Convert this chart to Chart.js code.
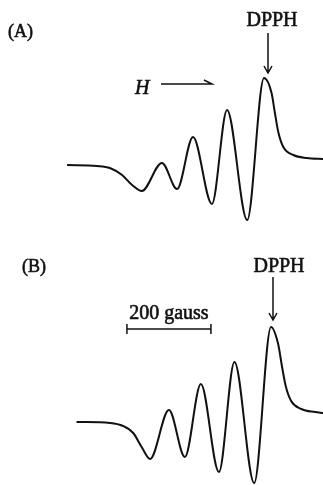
<!DOCTYPE html>
<html>
<head>
<meta charset="utf-8">
<script src="https://cdn.jsdelivr.net/npm/chart.js@4/dist/chart.umd.min.js"></script>
<style>
  html, body { margin: 0; padding: 0; background: #fff; }
  canvas { display: block; }
</style>
</head>
<body>
<canvas id="chartA" width="323" height="240"></canvas>
<canvas id="chartB" width="323" height="245"></canvas>
<script>
// Field offset from the DPPH line (gauss) and derivative signal (arb. units)
const fieldA = [-469, -398, -367, -338, -314, -291, -243, -207, -169, -124, -88, -40, 0, 18, 26, 34, 46, 70, 102, 141];
const signalA = [0, -1, -3, -10, -20, -26, 2, -24, 28, -39, 55, -55, 87, 72, 52, 33, 18, 10, 7, 6];

const fieldB = [-463, -383, -352, -328, -308, -288, -243, -205, -167, -124, -87, -40, 0, 17, 26, 35, 48, 72, 105, 124];
const signalB = [0, -1, -4, -11, -25, -37, 12, -35, 38, -50, 60, -61, 95, 78, 56, 36, 21, 13, 10, 9];

// 200 gauss scale bar (start, end in gauss)
const scaleBar = [-343, -143];
const scaleLabel = '200 gauss';

const FONT = '"Liberation Serif", "DejaVu Serif", serif';
const INK = '#111';

function downArrow(ctx, x, y0, y1) {
    ctx.beginPath();
    ctx.moveTo(x, y0);
    ctx.lineTo(x, y1);
    ctx.moveTo(x - 4, y1 - 7);
    ctx.lineTo(x, y1);
    ctx.lineTo(x + 4, y1 - 7);
    ctx.stroke();
}

// filled text with a thin outline, to look like the heavy print
function label(ctx, text, x, y) {
    ctx.fillText(text, x, y);
    ctx.lineWidth = 0.6;
    ctx.strokeText(text, x, y);
    ctx.lineWidth = 1.5;
}

// Draws labels, arrows and the scale bar on top of the trace
const annotate = {
    id: 'annotate',
    afterDraw(chart, args, opts) {
        const ctx = chart.ctx;
        const xs = chart.scales.x;
        ctx.save();
        ctx.fillStyle = INK;
        ctx.strokeStyle = INK;
        ctx.lineWidth = 1.5;
        ctx.textBaseline = 'alphabetic';

        ctx.font = '18px ' + FONT;
        ctx.textAlign = 'left';
        label(ctx, opts.panel, opts.panelX, opts.panelY);

        ctx.font = '20px ' + FONT;
        ctx.textAlign = 'center';
        label(ctx, 'DPPH', opts.dpphX, opts.dpphY);
        downArrow(ctx, opts.arrowX, opts.arrowTop, opts.arrowBottom);

        if (opts.field) {
            ctx.font = 'italic 20px ' + FONT;
            ctx.textAlign = 'left';
            label(ctx, 'H', 135, 94);
            ctx.beginPath();
            ctx.moveTo(161, 84);
            ctx.lineTo(212, 84);
            ctx.lineTo(204, 80);
            ctx.stroke();
        }

        if (opts.bar) {
            const x0 = xs.getPixelForValue(scaleBar[0]);
            const x1 = xs.getPixelForValue(scaleBar[1]);
            const y = 89;
            ctx.beginPath();
            ctx.moveTo(x0, y);
            ctx.lineTo(x1, y);
            ctx.moveTo(x0, y - 5);
            ctx.lineTo(x0, y + 5);
            ctx.moveTo(x1, y - 5);
            ctx.lineTo(x1, y + 5);
            ctx.stroke();
            ctx.font = '20px ' + FONT;
            ctx.textAlign = 'center';
            label(ctx, scaleLabel, (x0 + x1) / 2, 79);
        }
        ctx.restore();
    }
};

function makeChart(id, field, signal, xRange, yRange, notes) {
    return new Chart(document.getElementById(id), {
        type: 'line',
        data: {
            datasets: [{
                data: field.map((f, i) => ({ x: f, y: signal[i] })),
                borderColor: INK,
                borderWidth: 2,
                pointRadius: 0,
                cubicInterpolationMode: 'monotone',
                fill: false
            }]
        },
        options: {
            responsive: false,
            animation: false,
            layout: { padding: 0 },
            scales: {
                x: { type: 'linear', min: xRange[0], max: xRange[1], display: false },
                y: { min: yRange[0], max: yRange[1], display: false }
            },
            plugins: {
                legend: { display: false },
                tooltip: { enabled: false },
                annotate: notes
            }
        },
        plugins: [annotate]
    });
}

makeChart('chartA', fieldA, signalA, [-628.6, 140.5], [-75, 165], {
    panel: '(A)', panelX: 8, panelY: 37,
    dpphX: 272, dpphY: 26, arrowX: 268, arrowTop: 33, arrowBottom: 73,
    field: true
});

makeChart('chartB', fieldB, signalB, [-645.2, 123.8], [-63, 182], {
    panel: '(B)', panelX: 22, panelY: 32,
    dpphX: 279, dpphY: 32, arrowX: 273, arrowTop: 37, arrowBottom: 80,
    bar: true
});
</script>
</body>
</html>
